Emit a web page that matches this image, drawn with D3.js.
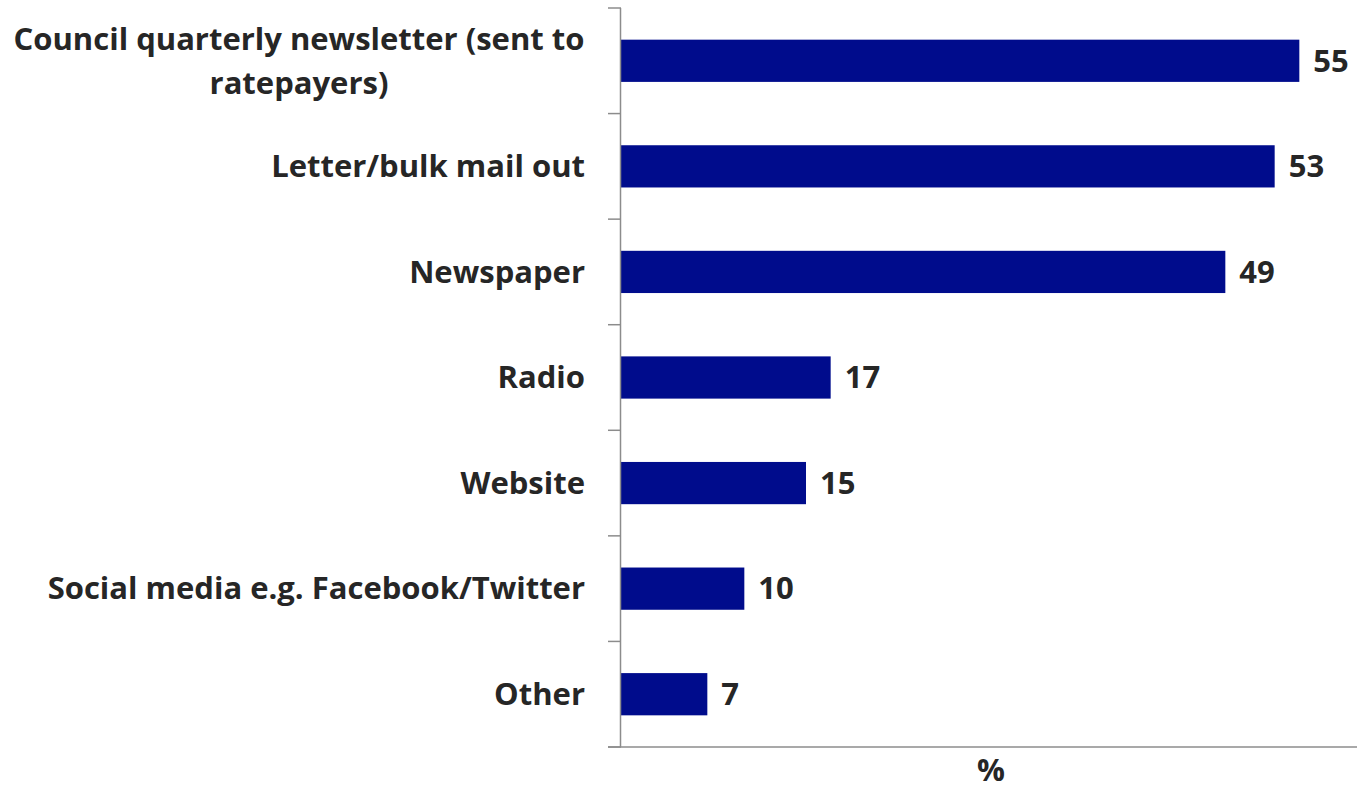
<!DOCTYPE html>
<html>
<head>
<meta charset="utf-8">
<script src="https://cdn.jsdelivr.net/npm/d3@7/dist/d3.min.js"></script>
<style>
  html, body { margin: 0; padding: 0; background: #fff; }
  svg text { font-family: "Open Sans", Lato, sans-serif; font-weight: bold; fill: #262626; }
</style>
</head>
<body>
<svg id="chart" width="1357" height="790"></svg>
<script>
// Channels used to hear about council information (% of respondents)
const categories = [
  "Council quarterly newsletter (sent to ratepayers)",
  "Letter/bulk mail out",
  "Newspaper",
  "Radio",
  "Website",
  "Social media e.g. Facebook/Twitter",
  "Other"
];
const values = [55, 53, 49, 17, 15, 10, 7];
const xMax = 60;
const axisTitle = "%";

// wrapped label lines, where a category needs two lines
const labelLines = {
  "Council quarterly newsletter (sent to ratepayers)": ["Council quarterly newsletter (sent to", "ratepayers)"]
};

const svg = d3.select("#chart");
const plotLeft = 621, plotRight = 1361, plotTop = 8, plotBottom = 747;

const x = d3.scaleLinear().domain([0, xMax]).range([plotLeft, plotRight]);
const y = d3.scaleBand().domain(categories).range([plotTop, plotBottom]).paddingInner(0.6).paddingOuter(0.3);
const yTicks = d3.scaleBand().domain(categories).range([plotTop, plotBottom]);

const axisColor = "#8c8c8c";

// bars
svg.append("g").selectAll("rect")
  .data(categories)
  .join("rect")
  .attr("x", x(0))
  .attr("y", d => y(d))
  .attr("width", (d, i) => x(values[i]) - x(0))
  .attr("height", y.bandwidth())
  .attr("fill", "#000c8c");

// vertical axis line and tick marks between categories
svg.append("line")
  .attr("x1", plotLeft - 0.5).attr("x2", plotLeft - 0.5)
  .attr("y1", plotTop).attr("y2", plotBottom)
  .attr("stroke", axisColor).attr("stroke-width", 1.5);
const tickYs = categories.map(c => yTicks(c)).concat([plotBottom]);
svg.append("g").selectAll("line")
  .data(tickYs)
  .join("line")
  .attr("x1", plotLeft - 13).attr("x2", plotLeft)
  .attr("y1", d => d).attr("y2", d => d)
  .attr("stroke", axisColor).attr("stroke-width", 1.5);

// horizontal axis line
svg.append("line")
  .attr("x1", plotLeft - 13).attr("x2", 1357)
  .attr("y1", plotBottom).attr("y2", plotBottom)
  .attr("stroke", axisColor).attr("stroke-width", 1.5);

// category labels
const fs = 31;
svg.append("g").selectAll("text")
  .data(categories)
  .join("text")
  .attr("text-anchor", "end")
  .attr("font-size", fs)
  .each(function(d) {
    const lines = labelLines[d] || [d];
    const cy = y(d) + y.bandwidth() / 2;
    const t = d3.select(this);
    if (lines.length === 1) {
      t.attr("x", 585).attr("y", cy).attr("dy", "0.35em").text(d);
    } else {
      t.attr("y", cy).attr("text-anchor", "middle");
      lines.forEach((ln, i) => {
        t.append("tspan")
          .attr("x", 299)
          .attr("y", cy + (i - (lines.length - 1) / 2) * 44)
          .attr("dy", "0.35em")
          .text(ln);
      });
    }
  });

// value labels
svg.append("g").selectAll("text")
  .data(categories)
  .join("text")
  .attr("x", (d, i) => x(values[i]) + 14)
  .attr("y", d => y(d) + y.bandwidth() / 2)
  .attr("dy", "0.35em")
  .attr("font-size", fs)
  .text((d, i) => values[i]);

// axis title
svg.append("text")
  .attr("x", 991)
  .attr("y", 781)
  .attr("text-anchor", "middle")
  .attr("font-size", fs)
  .text(axisTitle);
</script>
</body>
</html>
